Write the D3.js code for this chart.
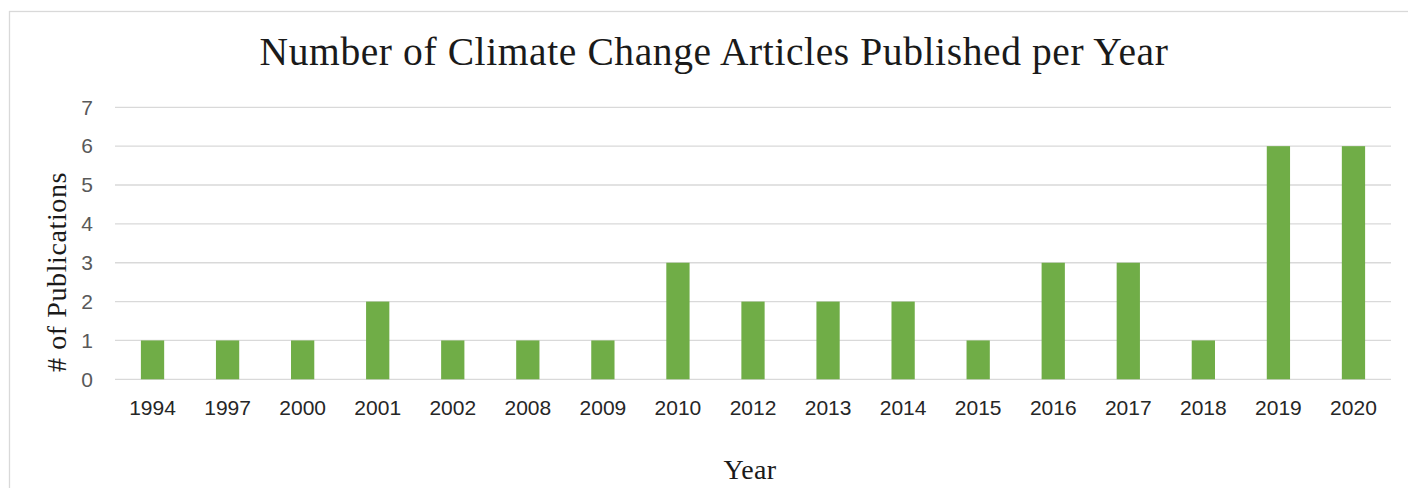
<!DOCTYPE html>
<html><head><meta charset="utf-8">
<script src="https://cdn.jsdelivr.net/npm/d3@7"></script>
<style>html,body{margin:0;padding:0;background:#fff;}svg{display:block;}</style>
</head><body>
<svg id="c" width="1408" height="488"></svg>
<script>
const categories = ["1994","1997","2000","2001","2002","2008","2009","2010","2012","2013","2014","2015","2016","2017","2018","2019","2020"];
const values = [1,1,1,2,1,1,1,3,2,2,2,1,3,3,1,6,6];
const yTicks = [0,1,2,3,4,5,6,7];
const title = "Number of Climate Change Articles Published per Year";
const xTitle = "Year";
const yTitle = "# of Publications";

(function(){
const svg = d3.select("#c");
// outer frame
svg.append("rect").attr("x",9.5).attr("y",11.5).attr("width",1420).attr("height",500)
  .attr("fill","none").attr("stroke","#d9d9d9").attr("stroke-width",1.3);

const pLeft = 115, pRight = 1391, pTop = 107.3, pBottom = 379.3;
const x = d3.scaleBand().domain(categories).range([pLeft,pRight]).paddingInner(0.69).paddingOuter(0.345);
const y = d3.scaleLinear().domain([0,7]).range([pBottom,pTop]);

// gridlines
svg.append("g").selectAll("line").data(yTicks).join("line")
  .attr("x1",pLeft).attr("x2",pRight)
  .attr("y1",d=>y(d)).attr("y2",d=>y(d))
  .attr("stroke","#d9d9d9").attr("stroke-width",1.3);

// bars
svg.append("g").selectAll("rect").data(categories).join("rect")
  .attr("x",d=>x(d)).attr("width",x.bandwidth())
  .attr("y",(d,i)=>y(values[i])).attr("height",(d,i)=>y(0)-y(values[i]))
  .attr("fill","#70ad47");

// y axis labels
const yAxis = d3.axisLeft(y).tickValues(yTicks).tickSize(0).tickPadding(0).tickFormat(d3.format("d"));
const gy = svg.append("g").attr("transform",`translate(${pLeft-22},0)`).call(yAxis);
gy.select(".domain").remove();
gy.selectAll("text").attr("fill","#595959").attr("font-family","'Liberation Sans', Arial, sans-serif").attr("font-size","21px");

// x axis labels
const xAxis = d3.axisBottom(x).tickSize(0).tickPadding(0);
const gx = svg.append("g").attr("transform",`translate(0,${pBottom+21})`).call(xAxis);
gx.select(".domain").remove();
gx.selectAll("text").attr("fill","#262626").attr("font-family","'Liberation Sans', Arial, sans-serif").attr("font-size","21px");

// titles
svg.append("text").attr("x",714).attr("y",65).attr("text-anchor","middle")
  .attr("font-family","'Liberation Serif', 'Times New Roman', serif").attr("font-size","39.5px").attr("fill","#1a1a1a")
  .attr("letter-spacing","0.6px")
  .text(title);
svg.append("text").attr("x",750).attr("y",479).attr("text-anchor","middle")
  .attr("font-family","'Liberation Serif', 'Times New Roman', serif").attr("font-size","28px").attr("fill","#1a1a1a")
  .attr("letter-spacing","0.4px")
  .text(xTitle);
svg.append("text").attr("transform","translate(66,272) rotate(-90)").attr("text-anchor","middle")
  .attr("font-family","'Liberation Serif', 'Times New Roman', serif").attr("font-size","28px").attr("fill","#1a1a1a")
  .attr("letter-spacing","0.6px")
  .text(yTitle);
})();
</script>
</body></html>
